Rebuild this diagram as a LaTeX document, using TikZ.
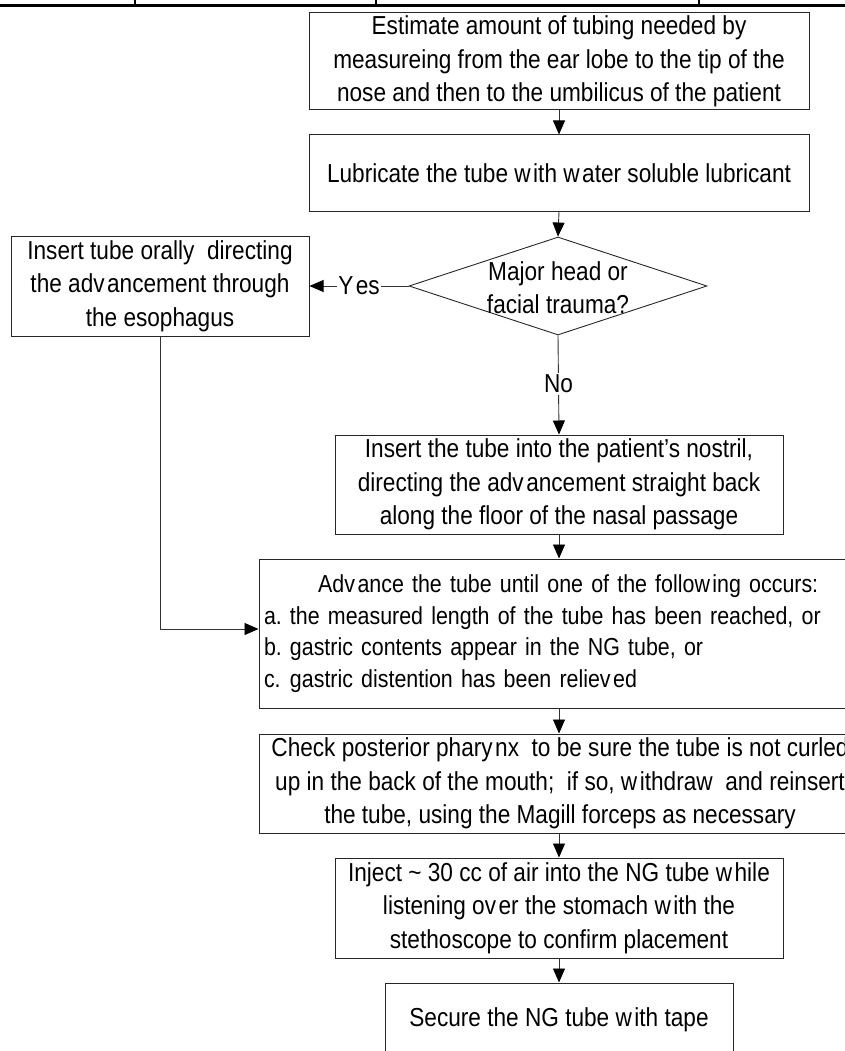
\documentclass[tikz,border=0pt]{standalone}
\usepackage{fontspec}
\setmainfont{Liberation Sans}[FakeStretch=0.87]
\usetikzlibrary{arrows.meta,shapes.geometric}
\newcommand\bodyfont{\fontsize{26}{33.5}\selectfont}
\newcommand\listfont{\fontsize{24.6}{31.5}\selectfont}
% small letter gap as set by the drawing program
\newcommand\gp{\kern2.5pt}
\begin{document}
\begin{tikzpicture}[x=1pt,y=-1pt,
  stepbox/.style={draw=black!85, line width=1pt, align=center, inner sep=0pt, font=\bodyfont},
  decision/.style={diamond, draw=black!85, line width=0.9pt, inner sep=0pt},
  link/.style={draw=black!80, line width=0.9pt},
  arr/.style={link, -{Triangle[width=12pt,length=14pt,color=black]}},
  tag/.style={fill=white, inner sep=1.5pt, font=\bodyfont}]
\useasboundingbox (0,0) rectangle (845,1051);
\clip (0,0) rectangle (845,1051);

% rule of the table above the chart
\draw[line width=3pt] (0,6) -- (845,6);
\foreach \x in {135,376,699} \draw[line width=1.5pt] (\x,0) -- (\x,6);

% steps
\node[stepbox, minimum width=500pt, minimum height=97pt] (estimate) at (559,61.5)
  {Estimate amount of tubing needed by\\measureing from the ear lobe to the tip of the\\nose and then to the umbilicus of the patient};
\node[stepbox, minimum width=500pt, minimum height=76pt] (lube) at (559,173)
  {Lubricate the tube w\gp ith w\gp ater soluble lubricant};
\node[decision, minimum width=298pt, minimum height=98pt] (trauma) at (558,286) {};
\node[font=\bodyfont, align=center, inner sep=0pt] (traumatext) at (558,287.5)
  {Major head or\\facial trauma?};
\node[stepbox, minimum width=298pt, minimum height=100pt] (oral) at (160,286)
  {Insert tube orally\ \ directing\\the adv\gp ancement through\\the esophagus};
\node[stepbox, minimum width=448pt, minimum height=99pt] (nostril) at (559,484.5)
  {Insert the tube into the patient's nostril,\\directing the adv\gp ancement straight back\\along the floor of the nasal passage};
\node[stepbox, font=\listfont, minimum width=602pt, minimum height=149pt, text width=592pt, inner xsep=5pt, align=left] (advance) at (560,633.5)
  {\makebox[\linewidth][c]{\ \ Adv\gp ance the tube until one of the follow\gp ing occurs:}\\
   \makebox[26pt][l]{a.}the measured length of the tube has been reached, or\\
   \makebox[26pt][l]{b.}gastric contents appear in the NG tube, or\\
   \makebox[26pt][l]{c.}gastric distention has been reliev\gp ed};
\node[stepbox, minimum width=602pt, minimum height=99pt] (check) at (560,783.5)
  {Check posterior phary\gp nx\ \ to be sure the tube is not curled\\up in the back of the mouth;\ \ if so, w\gp ithdraw\ \ and reinsert\\the tube, using the Magill forceps as necessary};
\node[stepbox, minimum width=448pt, minimum height=100pt] (inject) at (559,908)
  {Inject \textasciitilde\ 30 cc of air into the NG tube w\gp hile\\listening ov\gp er the stomach w\gp ith the\\stethoscope to confirm placement};
\node[stepbox, minimum width=348pt, minimum height=74pt] (secure) at (559,1020)
  {Secure the NG tube w\gp ith tape};

% connectors
\draw[arr] (estimate.south) -- (lube.north);
\draw[arr] (lube.south) -- (trauma.north);
\draw[arr] (trauma.west) -- (oral.east) node[tag, pos=0.5] (yes) {Y\gp es};
\draw[arr] (trauma.south) -- (nostril.north) node[tag, pos=0.49] (no) {No};
\draw[arr] (nostril.south) -- (nostril.south |- advance.north);
\draw[arr] (oral.south) |- ([yshift=4.5pt]advance.west);
\draw[arr] (nostril.south |- advance.south) -- (nostril.south |- check.north);
\draw[arr] (nostril.south |- check.south) -- (inject.north);
\draw[arr] (inject.south) -- (secure.north);
\end{tikzpicture}
\end{document}
